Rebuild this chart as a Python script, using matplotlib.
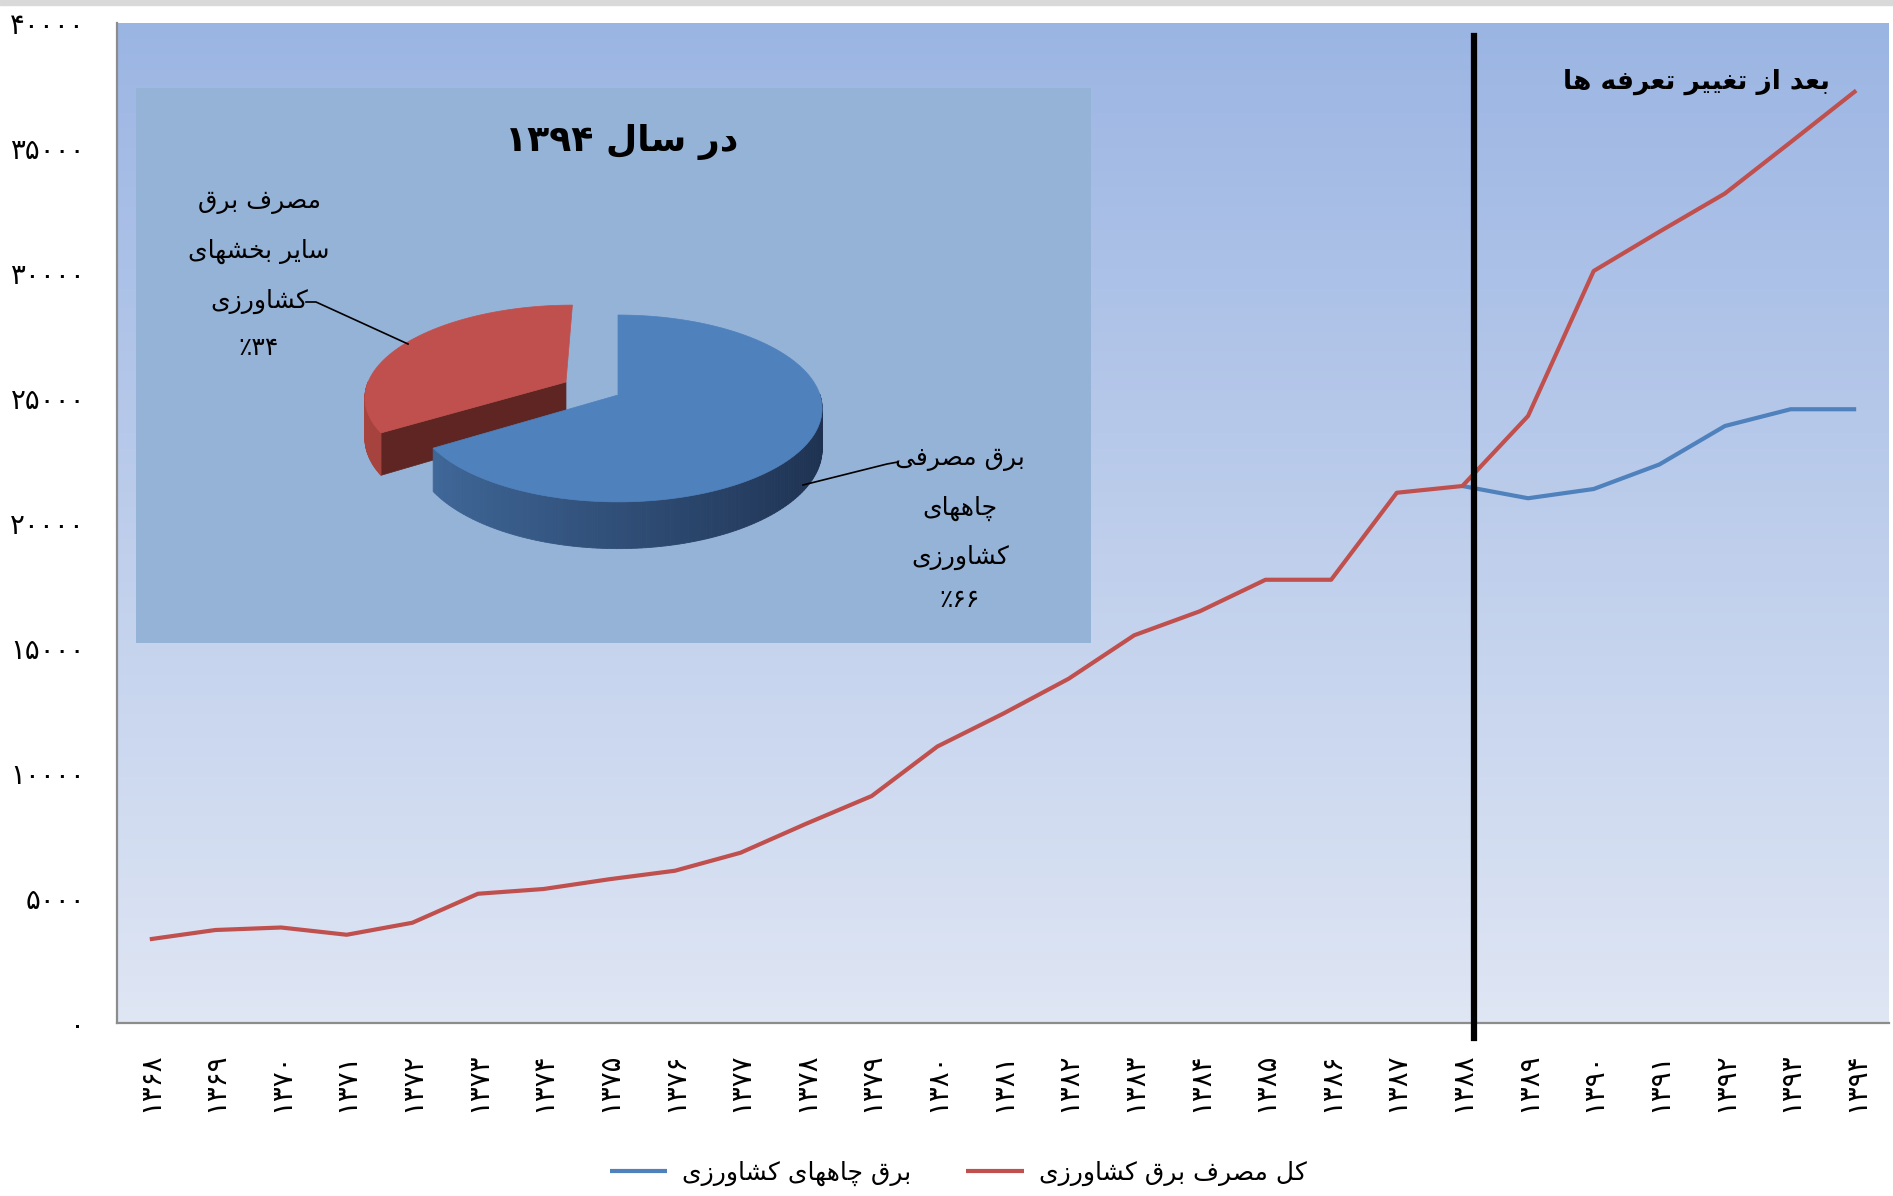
import re

import numpy as np
import matplotlib
matplotlib.use("Agg")
import matplotlib.pyplot as plt
from matplotlib.patches import Polygon, Rectangle
from matplotlib.colors import to_rgb
from matplotlib.transforms import blended_transform_factory

# ---- data -------------------------------------------------------------
YEARS = ["1368", "1369", "1370", "1371", "1372", "1373", "1374", "1375", "1376",
         "1377", "1378", "1379", "1380", "1381", "1382", "1383", "1384", "1385",
         "1386", "1387", "1388", "1389", "1390", "1391", "1392", "1393", "1394"]
TOTAL_AGRI = [3350, 3720, 3820, 3530, 4010, 5170, 5360, 5750, 6090, 6810, 7970,
              9080, 11060, 12370, 13770, 15510, 16470, 17730, 17730, 21210, 21480,
              24280, 30080, 31650, 33180, 35230, 37300]
WELLS = [np.nan] * 20 + [21480, 20990, 21360, 22340, 23880, 24550, 24550]
Y_TICKS = [0, 5000, 10000, 15000, 20000, 25000, 30000, 35000, 40000]
TARIFF_YEAR = "1388"

PIE_SHARES = [66, 34]
PIE_LABELS = [["برق مصرفی", "چاههای", "کشاورزی", "٪۶۶"],
              ["مصرف برق", "سایر بخشهای", "کشاورزی", "٪۳۴"]]
PIE_TITLE = "در سال ۱۳۹۴"
SERIES_NAMES = ["برق چاههای کشاورزی", "کل مصرف برق کشاورزی"]
NOTE = "بعد از تغییر تعرفه ها"

# ---- minimal Persian shaping (matplotlib has no bidi/shaping) ----------
FORMS = {
    "ا": ("\uFE8D", "\uFE8E", None, None),
    "ب": ("\uFE8F", "\uFE90", "\uFE91", "\uFE92"),
    "ت": ("\uFE95", "\uFE96", "\uFE97", "\uFE98"),
    "خ": ("\uFEA5", "\uFEA6", "\uFEA7", "\uFEA8"),
    "د": ("\uFEA9", "\uFEAA", None, None),
    "ر": ("\uFEAD", "\uFEAE", None, None),
    "ز": ("\uFEAF", "\uFEB0", None, None),
    "س": ("\uFEB1", "\uFEB2", "\uFEB3", "\uFEB4"),
    "ش": ("\uFEB5", "\uFEB6", "\uFEB7", "\uFEB8"),
    "ص": ("\uFEB9", "\uFEBA", "\uFEBB", "\uFEBC"),
    "ع": ("\uFEC9", "\uFECA", "\uFECB", "\uFECC"),
    "غ": ("\uFECD", "\uFECE", "\uFECF", "\uFED0"),
    "ف": ("\uFED1", "\uFED2", "\uFED3", "\uFED4"),
    "ق": ("\uFED5", "\uFED6", "\uFED7", "\uFED8"),
    "ل": ("\uFEDD", "\uFEDE", "\uFEDF", "\uFEE0"),
    "م": ("\uFEE1", "\uFEE2", "\uFEE3", "\uFEE4"),
    "ه": ("\uFEE9", "\uFEEA", "\uFEEB", "\uFEEC"),
    "و": ("\uFEED", "\uFEEE", None, None),
    "چ": ("\uFB7A", "\uFB7B", "\uFB7C", "\uFB7D"),
    "ک": ("\uFB8E", "\uFB8F", "\uFB90", "\uFB91"),
    "ی": ("\uFBFC", "\uFBFD", "\uFBFE", "\uFBFF"),
}
FA_DIGITS = str.maketrans("0123456789", "۰۱۲۳۴۵۶۷۸۹")


def shape(text):
    out = []
    for i, c in enumerate(text):
        if c not in FORMS:
            out.append(c)
            continue
        iso, fin, ini, med = FORMS[c]
        prev = text[i - 1] if i > 0 else ""
        nxt = text[i + 1] if i + 1 < len(text) else ""
        join_prev = prev in FORMS and FORMS[prev][2] is not None
        join_next = ini is not None and nxt in FORMS
        if join_prev and join_next:
            out.append(med)
        elif join_prev:
            out.append(fin)
        elif join_next:
            out.append(ini)
        else:
            out.append(iso)
    s = "".join(out)[::-1]
    return re.sub(r"[٪۰-۹0-9]+", lambda m: m.group(0)[::-1], s)


def fa(n):
    return str(n).translate(FA_DIGITS)


plt.rcParams["font.family"] = ["DejaVu Sans"]

W, H = 1893, 1196
fig = plt.figure(figsize=(W / 100, H / 100), dpi=100)
fig.patch.set_facecolor("white")
fig.patches.append(Rectangle((0, 1 - 5 / H), 1, 5 / H, transform=fig.transFigure,
                             color="#D9D9D9", zorder=0))

# ---- main line chart ---------------------------------------------------
ax = fig.add_axes([117 / W, 1 - 1023 / H, (1889 - 117) / W, 1000 / H])
x = np.arange(len(YEARS))
ax.set_xlim(-0.5, len(YEARS) - 0.5)
ax.set_ylim(Y_TICKS[0], Y_TICKS[-1])

top_c, bot_c = np.array(to_rgb("#9BB5E3")), np.array(to_rgb("#DFE6F4"))
f = np.linspace(0, 1, 256)[:, None, None]
grad = top_c * (1 - f) + bot_c * f
ax.imshow(grad, extent=[-0.5, len(YEARS) - 0.5, Y_TICKS[0], Y_TICKS[-1]],
          aspect="auto", origin="upper", zorder=0)

red_line, = ax.plot(x, TOTAL_AGRI, color="#C0504D", lw=3, zorder=3,
                    solid_capstyle="butt")
blue_line, = ax.plot(x, WELLS, color="#4F81BD", lw=3, zorder=2,
                     solid_capstyle="butt")

xv = YEARS.index(TARIFF_YEAR) + 0.18
trans = blended_transform_factory(ax.transData, ax.transAxes)
ax.plot([xv, xv], [0.987, -0.015], transform=trans, color="black", lw=4.5,
        zorder=5, clip_on=False)

ax.set_xticks(x)
ax.set_xticklabels([fa(y) for y in YEARS], rotation=90, fontsize=20)
ax.set_yticks(Y_TICKS)
ax.set_yticklabels([fa(v) for v in Y_TICKS], fontsize=20)
ax.tick_params(axis="x", length=0, pad=21)
ax.tick_params(axis="y", length=0, pad=23)
for side in ("top", "right"):
    ax.spines[side].set_visible(False)
for side in ("left", "bottom"):
    ax.spines[side].set_color("#8C8C8C")
    ax.spines[side].set_linewidth(1.6)

ax.text(1696 / W, 1 - 82 / H, shape(NOTE), transform=fig.transFigure,
        ha="center", va="center", fontsize=19, fontweight="bold", zorder=6)

# ---- inset pie (drawn in pixel coordinates) ----------------------------
ov = fig.add_axes([0, 0, 1, 1], zorder=4)
ov.set_xlim(0, W)
ov.set_ylim(H, 0)
ov.axis("off")
ov.add_patch(Rectangle((136, 88), 1091 - 136, 643 - 88, color="#95B2D7", lw=0))
ov.text(622, 142, shape(PIE_TITLE), ha="center", va="center", fontsize=26,
        fontweight="bold")

# perspective projection of a unit disk lying flat
CX, CY, A, B, K, D0 = 618, 395, 202, 91.5, 0.144, 40


def proj(u, v, drop=0.0):
    w = 1 + K * v
    return np.column_stack([CX + A * u / w, CY - B * v / w + D0 * drop / w])


def mix(c1, c2, k):
    return np.array(to_rgb(c1)) * (1 - k) + np.array(to_rgb(c2)) * k


total = sum(PIE_SHARES)
angles = [90]
for s in PIE_SHARES:
    angles.append(angles[-1] - 360 * s / total)
slices = [
    dict(t0=angles[1], t1=angles[0], explode=0.0,
         top="#4F81BD", wall=("#426C9F", "#1E3150"), cut="#2B4A74"),
    dict(t0=angles[2] + 360, t1=angles[1] + 360, explode=0.30,
         top="#C0504D", wall=("#A8443F", "#8E3835"), cut="#5E2522"),
]
# back slice (red) first, then front slice (blue)
for sl in slices[::-1]:
    mid = np.radians((sl["t0"] + sl["t1"]) / 2)
    u0, v0 = sl["explode"] * np.cos(mid), sl["explode"] * np.sin(mid)
    ts = np.radians(np.linspace(sl["t0"], sl["t1"], 200))
    uu, vv = u0 + np.cos(ts), v0 + np.sin(ts)
    edge = proj(uu, vv)
    edge_low = proj(uu, vv, 1.0)
    c_top = proj(np.array([u0]), np.array([v0]))[0]
    c_low = proj(np.array([u0]), np.array([v0]), 1.0)[0]
    # radial cut faces that look toward the viewer
    for idx, sign in ((0, -1), (-1, 1)):
        t = ts[idx]
        if -sign * np.cos(t) > 1e-6 and sl["explode"] > 0:
            quad = [c_top, edge[idx], edge_low[idx], c_low]
            ov.add_patch(Polygon(quad, closed=True, fc=sl["cut"], ec=sl["cut"], lw=0.5))
    # outer wall (front half only)
    for i in range(len(ts) - 1):
        tm = (ts[i] + ts[i + 1]) / 2
        if np.sin(tm) >= 0:
            continue
        k = (np.cos(tm) + 1) / 2
        col = mix(sl["wall"][0], sl["wall"][1], k)
        quad = [edge[i], edge[i + 1], edge_low[i + 1], edge_low[i]]
        ov.add_patch(Polygon(quad, closed=True, fc=col, ec=col, lw=0.6))
    top = np.vstack([c_top, edge])
    ov.add_patch(Polygon(top, closed=True, fc=sl["top"], ec=sl["top"], lw=0.5))

# leader lines and labels
ov.plot([306, 316, 408], [302, 302, 344], color="black", lw=1.2)
ov.plot([898, 887, 803], [462, 464, 485], color="black", lw=1.2)
for lines, xc, ys in ((PIE_LABELS[1], 259, (202, 251, 301, 348)),
                      (PIE_LABELS[0], 960, (459, 508, 557, 600))):
    for txt, yy in zip(lines, ys):
        ov.text(xc, yy, shape(txt), ha="center", va="center", fontsize=18)

# ---- legend -------------------------------------------------------------
fig.legend(handles=[blue_line, red_line],
           labels=[shape(n) for n in SERIES_NAMES],
           loc="center", bbox_to_anchor=(958 / W, 1 - 1173 / H), ncol=2,
           frameon=False, fontsize=18, handlelength=2.3, handletextpad=0.6,
           columnspacing=2.2)

fig.savefig("out.png", dpi=100, facecolor=fig.get_facecolor())
